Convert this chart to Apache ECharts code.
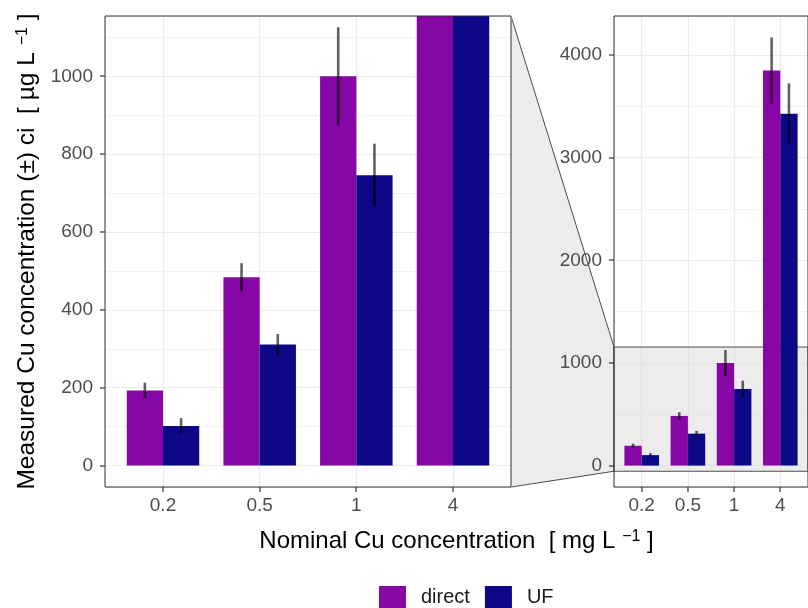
<!DOCTYPE html>
<html><head><meta charset="utf-8">
<script src="https://cdn.jsdelivr.net/npm/echarts@6/dist/echarts.min.js"></script>
<style>html,body{margin:0;padding:0;background:#fff}#c{width:808px;height:608px}</style>
</head><body><div id="c"></div>
<script>
// ---- data ----
const categories = ['0.2', '0.5', '1', '4'];
const directMean = [193, 484, 1000, 3849];
const directCI   = [20, 36, 126, 323];
const ufMean     = [102, 311, 746, 3427];
const ufCI       = [20, 27, 81, 297];
const zoomTicks  = [0, 200, 400, 600, 800, 1000];
const fullTicks  = [0, 1000, 2000, 3000, 4000];
const zoomLimits = [0, 1100];

// ---- layout / style ----
const FONT = '"Liberation Sans", Arial, sans-serif';
const BW = 0.375;
const TICK_LEN = 5;
const C_DIRECT = '#8707a6', C_UF = '#0d0887';
const GRID_MAJOR = '#ebebeb';
const ZOOM_FILL = 'rgba(217,217,217,0.5)', ZOOM_STROKE = '#4d4d4d';

function expand(lim) { const d = (lim[1] - lim[0]) * 0.05; return [lim[0] - d, lim[1] + d]; }
const zoomRange = expand(zoomLimits);
const fullMax = Math.max(...directMean.map((m, i) => m + directCI[i]), ...ufMean.map((m, i) => m + ufCI[i]));
const fullRange = expand([0, fullMax]);
const xPos = categories.map((c, i) => i + 1);
const xRange = [0.4, categories.length + 0.6];

function xAx(gi) {
  return {
    type: 'value', gridIndex: gi, min: xRange[0], max: xRange[1], position: 'bottom',
    axisLine: { show: false, onZero: false },
    axisTick: { show: false },
    axisLabel: { customValues: xPos,
      formatter: v => categories[Math.round(v) - 1] || '', color: '#4d4d4d', fontSize: 19, fontFamily: FONT, margin: 9 },
    splitLine: { show: true, lineStyle: { color: GRID_MAJOR, width: 1.2 } },
    minorSplitLine: { show: false }
  };
}
function yAx(gi, range, ticks, extra) {
  return Object.assign({
    type: 'value', gridIndex: gi, min: range[0], max: range[1], position: 'left',
    axisLine: { show: false, onZero: false },
    axisTick: { show: false },
    axisLabel: { customValues: ticks, formatter: v => String(v),
      color: '#4d4d4d', fontSize: 19, fontFamily: FONT, margin: 12 },
    splitLine: { show: true, lineStyle: { color: GRID_MAJOR, width: 1.2 } },
    minorTick: { show: false, splitNumber: 2 },
    minorSplitLine: { show: true, lineStyle: { color: GRID_MAJOR, width: 0.6 } }
  }, extra || {});
}

function barSeries(gi, name, means, color, side) {
  return {
    type: 'custom', name, xAxisIndex: gi, yAxisIndex: gi, z: 3, itemStyle: { color },
    data: means.map((m, i) => [xPos[i], m]),
    renderItem(params, api) {
      const x = api.value(0), v = api.value(1);
      const xl = side < 0 ? x - BW : x, xr = side < 0 ? x : x + BW;
      const p0 = api.coord([xl, v]), p1 = api.coord([xr, 0]);
      const r = echarts.graphic.clipRectByRect({
        x: p0[0], y: Math.min(p0[1], p1[1]), width: p1[0] - p0[0], height: Math.abs(p1[1] - p0[1])
      }, params.coordSys);
      if (!r) return null;
      return { type: 'rect', shape: r, style: { fill: color } };
    }
  };
}
function errSeries(gi, means, cis, side) {
  return {
    type: 'custom', name: 'ci', xAxisIndex: gi, yAxisIndex: gi, z: 4, silent: true,
    data: means.map((m, i) => [xPos[i] + side * BW / 2, m - cis[i], m + cis[i]]),
    renderItem(params, api) {
      const cs = params.coordSys;
      const p0 = api.coord([api.value(0), api.value(1)]);
      const p1 = api.coord([api.value(0), api.value(2)]);
      const yTop = cs.y, yBot = cs.y + cs.height;
      const y1 = Math.min(Math.max(p0[1], yTop), yBot), y2 = Math.min(Math.max(p1[1], yTop), yBot);
      return { type: 'line', shape: { x1: p0[0], y1, x2: p1[0], y2 }, style: { stroke: 'rgba(0,0,0,0.62)', lineWidth: 2.6 } };
    }
  };
}
const zoomRectSeries = {
  type: 'custom', xAxisIndex: 1, yAxisIndex: 1, z: 1, silent: true,
  data: [[xRange[0], zoomRange[0], xRange[1], zoomRange[1]]],
  renderItem(params, api) {
    const a = api.coord([api.value(0), api.value(3)]);
    const b = api.coord([api.value(2), api.value(1)]);
    return { type: 'rect', shape: { x: a[0], y: a[1], width: b[0] - a[0], height: b[1] - a[1] },
      style: { fill: ZOOM_FILL, stroke: ZOOM_STROKE, lineWidth: 1 } };
  }
};

const chart = echarts.init(document.getElementById('c'), null, { renderer: 'canvas' });
chart.setOption({
  animation: false,
  backgroundColor: '#fff',
  grid: [
    { left: 105, top: 16, width: 406, height: 471, show: true, backgroundColor: '#fff', borderWidth: 0 },
    { left: 614, top: 16, width: 202.5, height: 471, show: true, backgroundColor: '#fff', borderWidth: 0 }
  ],
  xAxis: [xAx(0), xAx(1)],
  yAxis: [
    yAx(0, zoomRange, zoomTicks, {
      name: 'Measured Cu concentration (±) ci  [ µg L {s|−1} ]',
      nameLocation: 'middle', nameRotate: 90, nameGap: 64,
      nameTextStyle: { fontSize: 24.5, color: '#000', fontFamily: FONT,
        rich: { s: { fontSize: 16, fontFamily: FONT, color: '#000', verticalAlign: 'top' } } }
    }),
    yAx(1, fullRange, fullTicks)
  ],
  legend: {
    data: ['direct', 'UF'], left: 379, top: 586, padding: 0, itemWidth: 27, itemHeight: 22, itemGap: 15, icon: 'rect',
    selectedMode: false,
    textStyle: { fontSize: 20, color: '#1a1a1a', fontFamily: FONT, padding: [0, 0, 0, 10] }
  },
  series: [
    barSeries(0, 'direct', directMean, C_DIRECT, -1),
    barSeries(0, 'UF', ufMean, C_UF, 1),
    errSeries(0, directMean, directCI, -1),
    errSeries(0, ufMean, ufCI, 1),
    zoomRectSeries,
    barSeries(1, 'direct', directMean, C_DIRECT, -1),
    barSeries(1, 'UF', ufMean, C_UF, 1),
    errSeries(1, directMean, directCI, -1),
    errSeries(1, ufMean, ufCI, 1)
  ]
});

// frame, ticks, zoom connector and x title from axis coordinates
const f0 = { xAxisIndex: 0, yAxisIndex: 0 }, f1 = { xAxisIndex: 1, yAxisIndex: 1 };
const L_tl = chart.convertToPixel(f0, [xRange[0], zoomRange[1]]);
const L_br = chart.convertToPixel(f0, [xRange[1], zoomRange[0]]);
const R_tl = chart.convertToPixel(f1, [xRange[0], fullRange[1]]);
const R_br = chart.convertToPixel(f1, [xRange[1], fullRange[0]]);
const zTop = chart.convertToPixel(f1, [xRange[0], zoomRange[1]]);
const zBot = chart.convertToPixel(f1, [xRange[0], zoomRange[0]]);

// tick marks as thin filled rects (outside the panels)
const tickEls = [];
[[f0, zoomRange, zoomTicks], [f1, fullRange, fullTicks]].forEach(([f, yr, yt]) => {
  yt.forEach(v => {
    const p = chart.convertToPixel(f, [xRange[0], v]);
    tickEls.push({ type: 'rect', z: 120, silent: true,
      shape: { x: Math.round(p[0]) - TICK_LEN, y: Math.round(p[1]) - 0.6, width: TICK_LEN, height: 1.2 },
      style: { fill: '#333', stroke: null } });
  });
  xPos.forEach(v => {
    const p = chart.convertToPixel(f, [v, yr[0]]);
    tickEls.push({ type: 'rect', z: 120, silent: true,
      shape: { x: Math.round(p[0]) - 0.6, y: Math.round(p[1]), width: 1.2, height: TICK_LEN },
      style: { fill: '#333', stroke: null } });
  });
});

chart.setOption({
  graphic: {
    elements: [
      { type: 'polygon', z: -10, silent: true,
        shape: { points: [[L_br[0], L_tl[1]], zTop, zBot, [L_br[0], L_br[1]]] },
        style: { fill: ZOOM_FILL, stroke: ZOOM_STROKE, lineWidth: 1 } },
      { type: 'rect', z: 100, silent: true,
        shape: { x: L_tl[0], y: L_tl[1], width: L_br[0] - L_tl[0], height: L_br[1] - L_tl[1] },
        style: { fill: null, stroke: '#333', lineWidth: 1 } },
      { type: 'rect', z: 100, silent: true,
        shape: { x: R_tl[0], y: R_tl[1], width: R_br[0] - R_tl[0], height: R_br[1] - R_tl[1] },
        style: { fill: null, stroke: '#333', lineWidth: 1 } },
      { type: 'text', z: 100, silent: true, x: (L_tl[0] + R_br[0]) / 2, y: 541,
        style: { text: 'Nominal Cu concentration  [ mg L {s|−1} ]', align: 'center', verticalAlign: 'middle',
          fontSize: 24, fontFamily: FONT, fill: '#000',
          rich: { s: { fontSize: 16, fontFamily: FONT, fill: '#000', verticalAlign: 'top' } } } }
    ].concat(tickEls)
  }
});
</script>
</body></html>
